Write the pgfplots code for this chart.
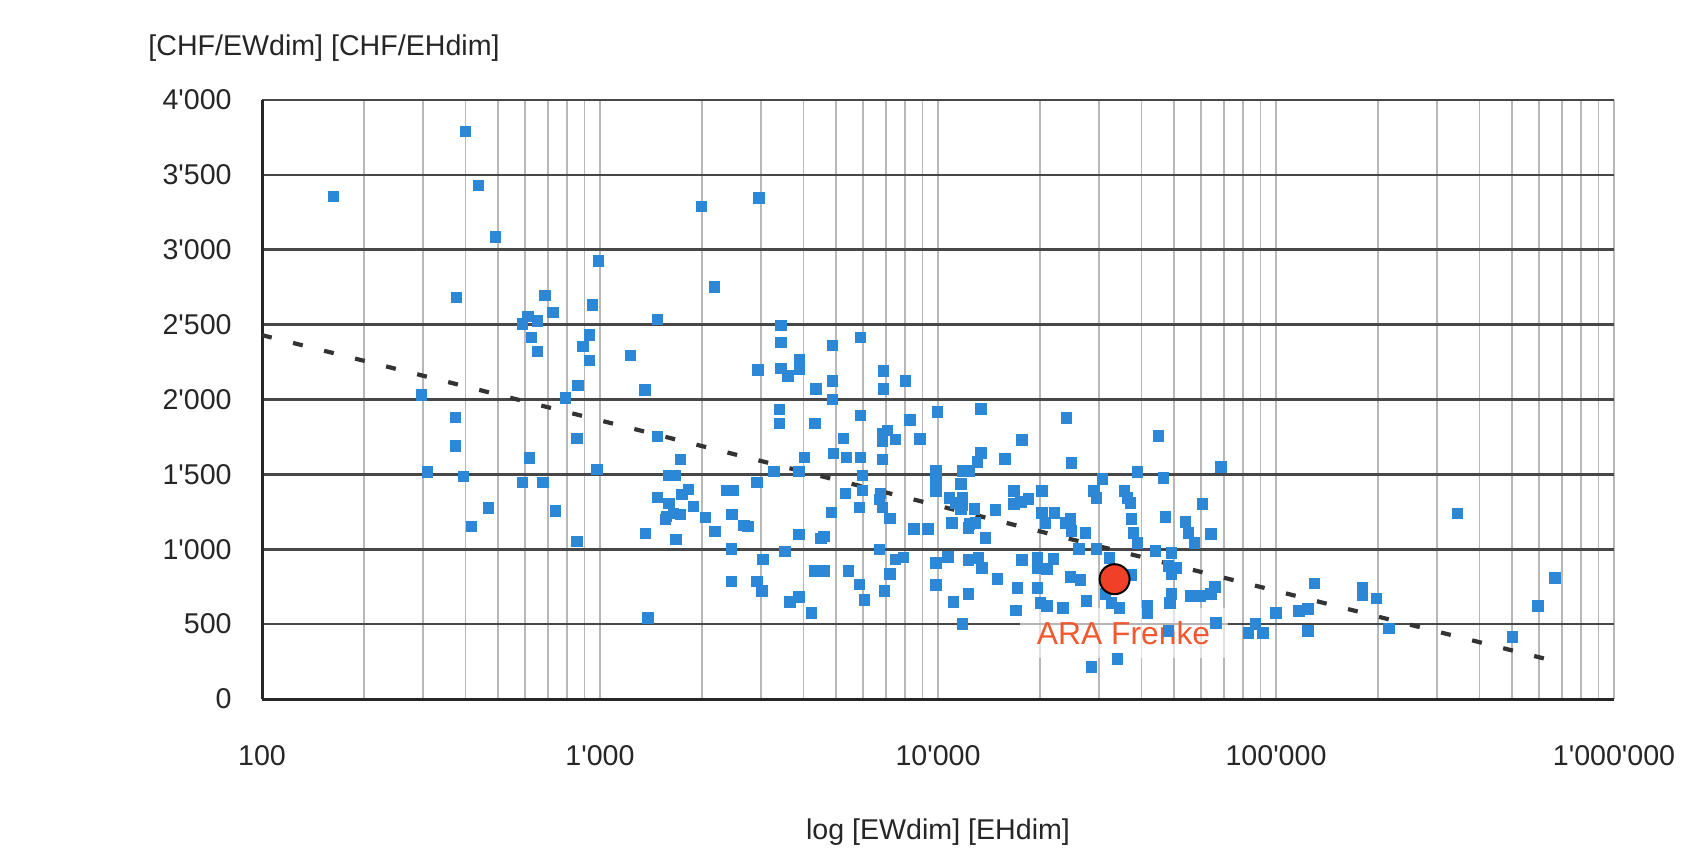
\documentclass[border=0pt]{standalone}
\usepackage{pgfplots}
\pgfplotsset{compat=1.18}
\usepackage{pgfplotstable}
\usepackage{fontspec}
\setmainfont{Liberation Sans}
% straight apostrophe as thousands separator (bypass TeX ligature mapping)
\newcommand\q{\XeTeXglyph\XeTeXcharglyph"27\relax}

\definecolor{ptblue}{RGB}{45,135,215}
\definecolor{arared}{RGB}{240,65,40}
\definecolor{aratext}{RGB}{242,88,48}

% Kosten pro EW/EH gegen Ausbaugroesse
\pgfplotstableread{
ew chf
163 3355
296 2030
309 1515
373 1880
373 1690
376 2680
394 1485
400 3790
416 1150
437 3430
467 1275
490 3085
589 2505
589 1445
613 2555
618 1610
626 2415
652 2525
652 2320
679 1445
688 2695
727 2580
737 1255
790 2010
856 1739
856 1050
860 2095
890 2355
930 2430
930 2262
950 2630
980 1532
990 2925
1230 2295
1360 2063
1365 1104
1385 542
1480 2535
1480 1753
1480 1344
1560 1197
1575 1217
1600 1492
1600 1304
1650 1237
1670 1492
1680 1064
1730 1599
1730 1231
1750 1365
1830 1398
1890 1284
2000 3290
2050 1211
2180 2750
2190 1117
2365 1391
2445 1003
2445 783
2460 1231
2480 1391
2670 1157
2740 1151
2915 1445
2915 783
2935 2196
2950 3345
3015 722
3035 930
3270 1518
3400 1933
3400 1839
3430 2495
3430 2382
3430 2209
3525 983
3600 2156
3645 649
3875 1518
3875 1097
3875 682
3900 2269
3900 2202
4030 1612
4230 575
4320 1839
4320 856
4350 2069
4500 1070
4600 1084
4620 856
4845 1244
4880 2362
4880 2123
4880 2000
4910 1639
5260 1739
5320 1371
5360 1612
5440 856
5860 1278
5860 763
5900 2415
5900 1893
5900 1612
5970 1492
5970 1391
6050 662
6700 1331
6700 997
6750 1371
6840 1773
6840 1719
6840 1599
6840 1278
6890 2189
6890 2069
6940 722
7080 1793
7220 1204
7220 836
7480 1732
7480 930
7900 943
8000 2123
8260 1864
8500 1136
8850 1737
9330 1136
9870 1523
9870 1443
9870 1389
9870 909
9870 762
9970 1917
10700 949
10800 1343
11000 1176
11100 648
11300 1309
11700 1436
11700 1269
11800 1523
11800 1343
11800 1296
11800 501
12300 1142
12300 929
12300 701
12400 1523
12400 1169
12800 1269
12900 1176
13100 1583
13200 942
13400 1937
13400 1643
13500 875
13800 1075
14800 1262
15000 802
15800 1603
16800 1389
16800 1303
17000 590
17200 742
17600 1316
17700 1730
17700 929
18500 1336
19700 942
19700 875
19700 742
20100 641
20300 1389
20300 1242
20800 1176
21000 868
21000 621
22000 935
22100 1242
23400 608
23900 1176
24000 1877
24700 1202
24700 815
24800 1576
24800 1122
26100 1002
26400 795
27300 1109
27500 655
28400 214
28900 1389
29400 1343
29400 1002
30700 1470
31300 701
32200 942
32600 641
34000 267
34400 608
35600 1389
36300 1343
37100 1309
37300 1202
37300 828
37900 1109
38900 1516
38900 1042
41600 621
41600 574
44000 989
44900 1757
46400 1476
47100 1216
48000 888
48000 454
48600 641
49000 975
49000 835
49000 701
50700 875
53900 1182
55000 1109
56100 688
57300 1042
59700 688
60500 1303
64300 1102
64300 701
66000 748
66500 508
68800 1550
83000 440
87000 500
91400 440
100000 573
117000 587
124500 600
124500 453
130000 773
180000 745
180000 690
198000 673
216000 470
344000 1240
500000 413
595000 620
668000 807
}\anlagen

\begin{document}
\begin{tikzpicture}
\path[use as bounding box] (-131pt,-76pt) rectangle (713.5pt,349.5pt);
\begin{axis}[
  at={(0,0)}, anchor=south west,
  width=676pt, height=299.5pt, scale only axis,
  xmode=log, xmin=100, xmax=1000000, ymin=0, ymax=4000,
  xtick={100,1000,10000,100000,1000000},
  xticklabels={100,1\q000,10\q000,100\q000,1\q000\q000},
  minor xtick={200,300,400,500,600,700,800,900,
    2000,3000,4000,5000,6000,7000,8000,9000,
    20000,30000,40000,50000,60000,70000,80000,90000,
    200000,300000,400000,500000,600000,700000,800000,900000},
  ytick={0,500,1000,1500,2000,2500,3000,3500,4000},
  yticklabels={0,500,1\q000,1\q500,2\q000,2\q500,3\q000,3\q500,4\q000},
  xmajorgrids, xminorgrids, ymajorgrids,
  major x grid style={black!28, line width=0.9pt},
  minor x grid style={black!28, line width=0.9pt},
  major y grid style={black!72, line width=1.3pt},
  axis x line*=bottom, axis y line*=left,
  axis line style={black!85, line width=1.5pt, -},
  major tick length=0pt, minor tick length=0pt,
  tick label style={font=\fontsize{14.3}{17}\selectfont, text=black!85},
  xticklabel style={anchor=base, yshift=-33pt, inner sep=0pt},
  yticklabel style={anchor=east, xshift=-15pt, inner sep=0pt},
  xlabel={log [EWdim] [EHdim]},
  xlabel style={at={(rel axis cs:0.5,0)}, anchor=base, yshift=-70pt,
    inner sep=0pt, font=\fontsize{14.3}{17}\selectfont, text=black!85},
  ylabel={[CHF/EWdim] [CHF/EHdim]},
  ylabel style={rotate=-90, at={(rel axis cs:0,1)}, anchor=base west,
    xshift=-57pt, yshift=22pt, inner sep=0pt,
    font=\fontsize{14.3}{17}\selectfont, text=black!85},
]
\addplot[only marks, mark=square*, mark size=2.6pt,
  mark options={fill=ptblue, draw=ptblue, line width=0pt}]
  table[x=ew, y=chf] {\anlagen};
% Trendlinie (logarithmisch)
\addplot[black!80, line width=2.1pt, dash pattern=on 5pt off 11pt]
  coordinates {(100,2430) (640000,263)};
% ARA Frenke
\addplot[only marks, mark=*, mark size=7.5pt,
  mark options={fill=arared, draw=black, line width=1pt}]
  coordinates {(33300,800)};
\node[fill=white, fill opacity=0.6, text opacity=1, text=aratext,
  font=\fontsize{15.9}{18}\selectfont, minimum width=104pt,
  minimum height=25pt, inner sep=0pt] at (axis cs:35400,440) {ARA Frenke};
\end{axis}
\end{tikzpicture}
\end{document}
